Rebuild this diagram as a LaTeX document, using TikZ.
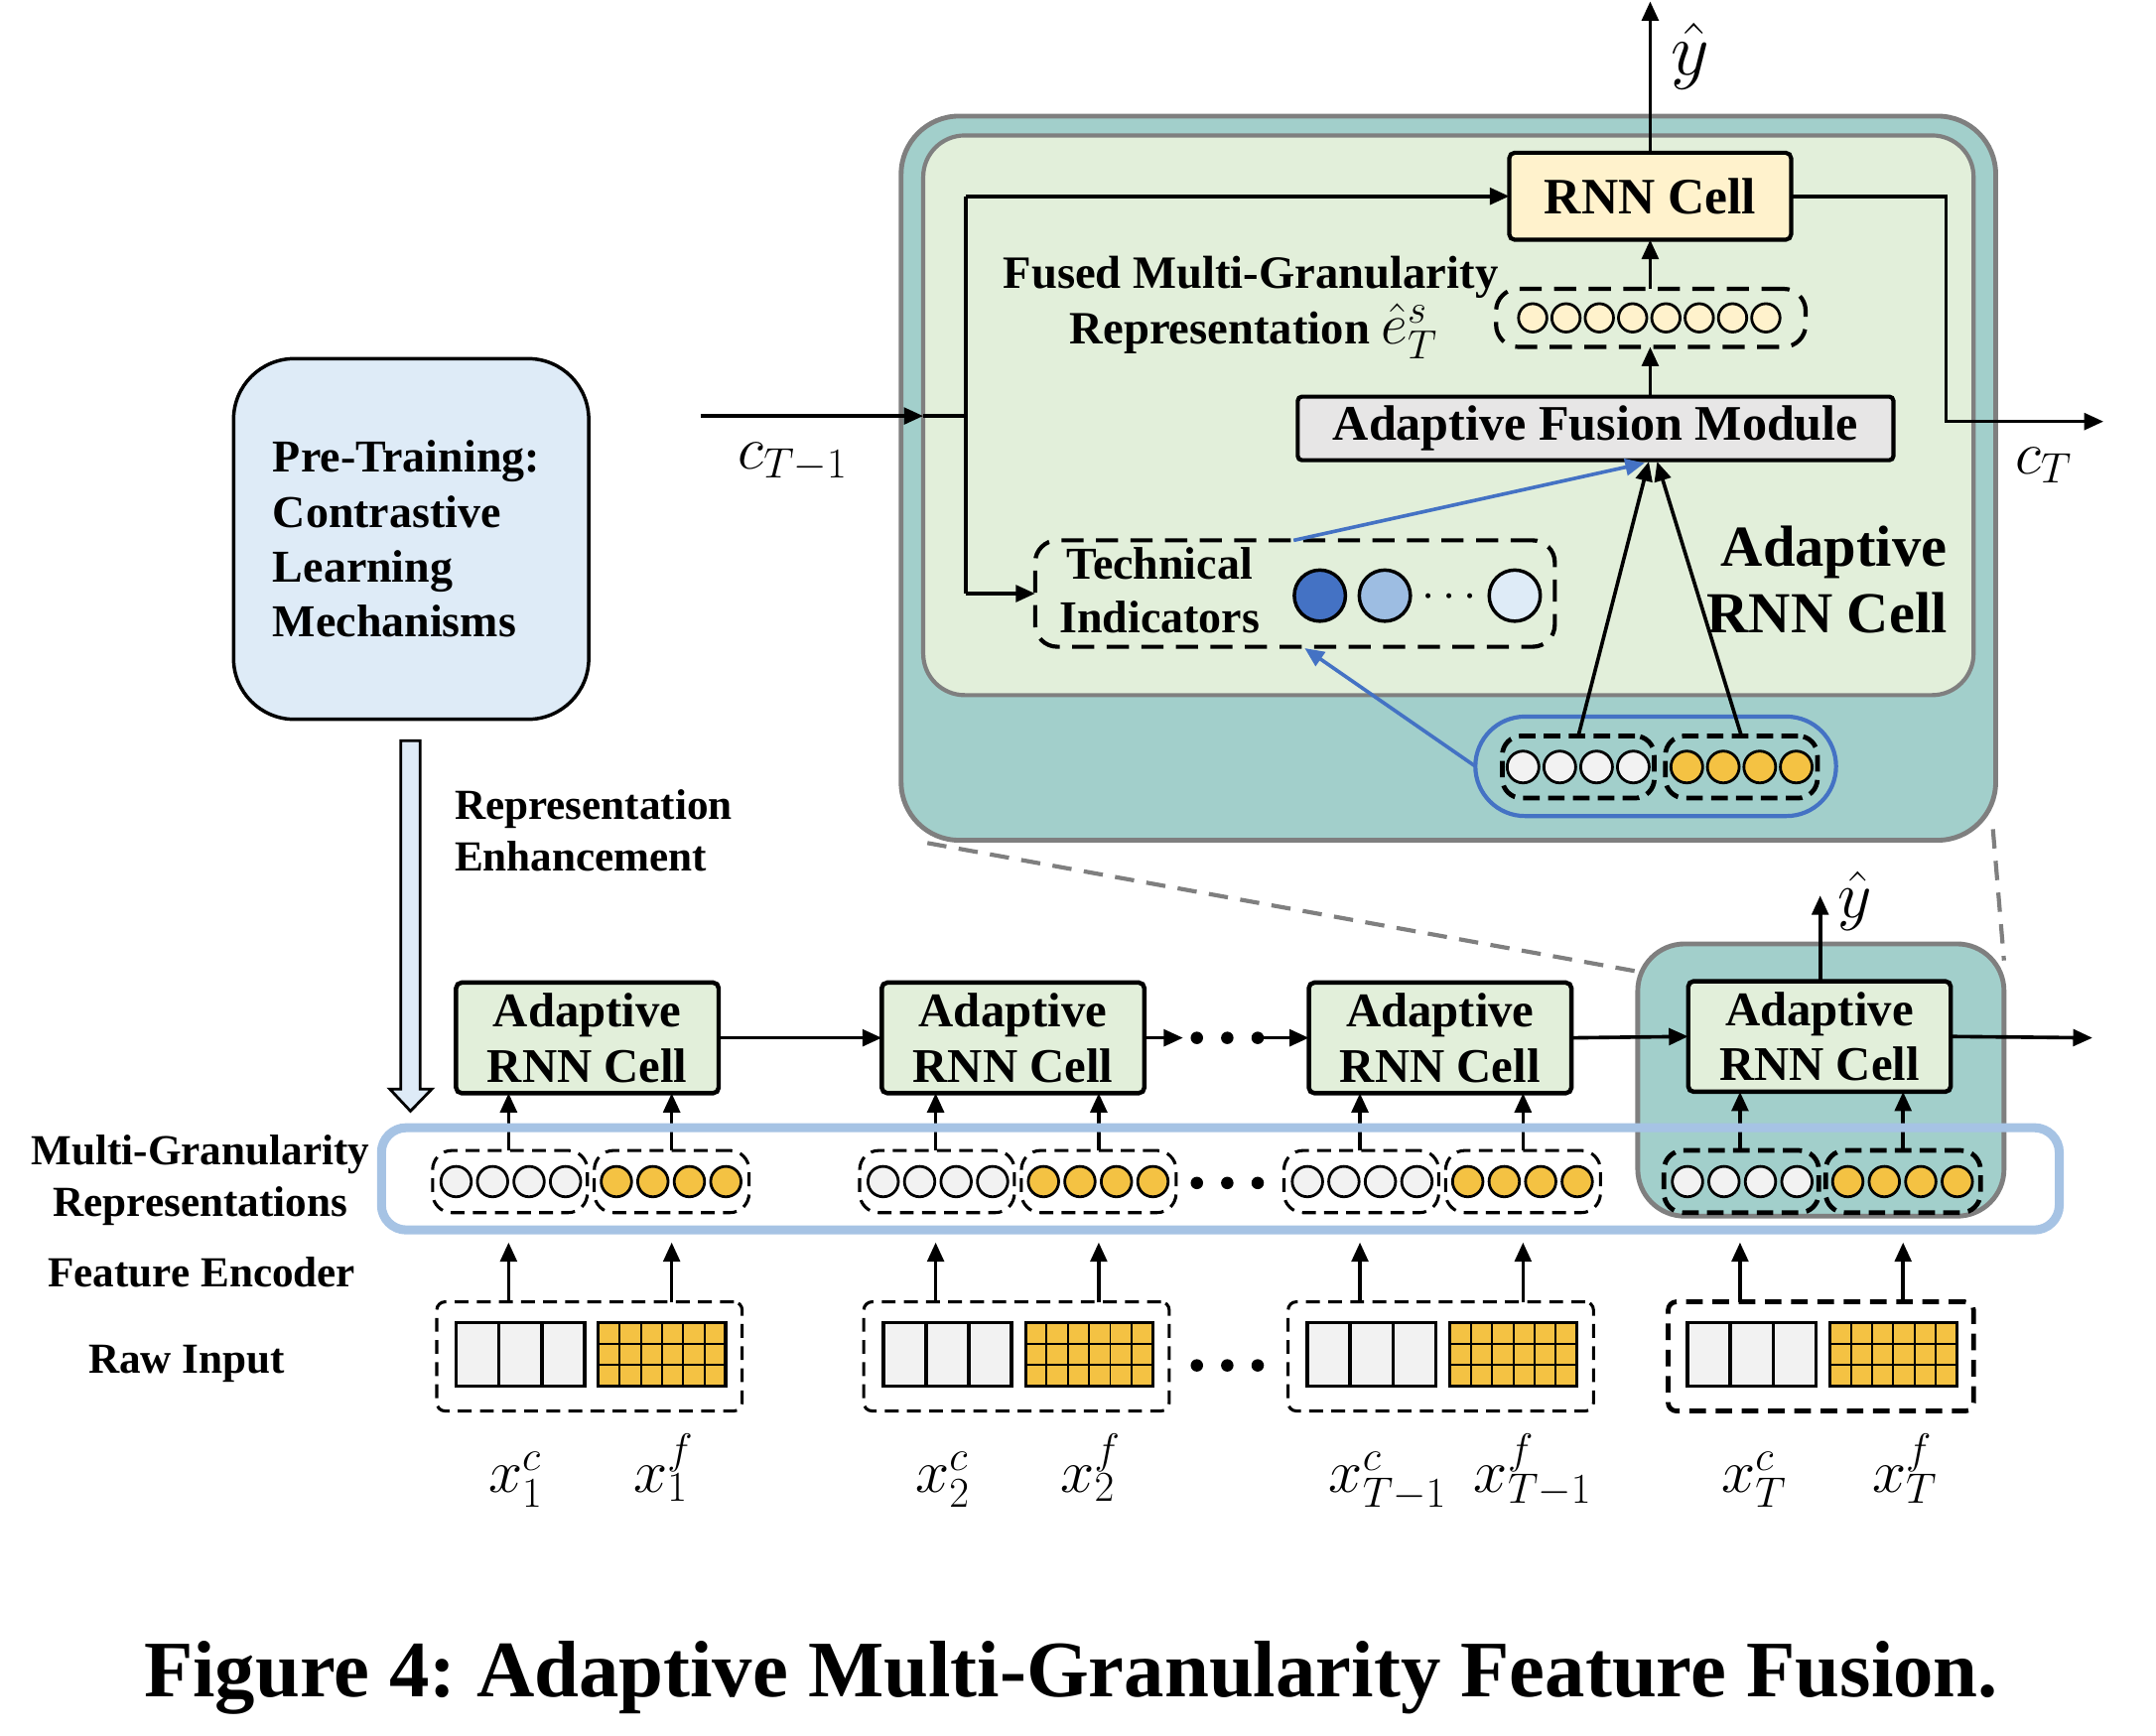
\RequirePackage{fix-cm}
\documentclass[tikz,border=0pt]{standalone}
\usepackage{fontspec}
\setmainfont{Liberation Serif}
\usetikzlibrary{arrows.meta,shapes.geometric,calc}
\frenchspacing
\definecolor{tealbg}{HTML}{A2CFCB}
\definecolor{greenbg}{HTML}{E2EFDA}
\definecolor{creambg}{HTML}{FFF2CC}
\definecolor{afmgray}{HTML}{E7E6E6}
\definecolor{ptblue}{HTML}{DEEBF7}
\definecolor{pillblue}{HTML}{4472C4}
\definecolor{rectblue}{HTML}{A6C3E4}
\definecolor{goldc}{HTML}{F4C243}
\definecolor{whitec}{HTML}{F2F2F2}
\definecolor{midblue}{HTML}{9DBDE2}
\definecolor{lightblue}{HTML}{DEEBF7}
\definecolor{bordergray}{HTML}{7F7F7F}
\tikzset{
  every node/.style={inner sep=0pt, outer sep=0pt},
  arr/.style={line width=2.6pt, -{Triangle[length=14pt,width=12pt]}},
  plain/.style={line width=2.6pt},
  bluearr/.style={line width=2.6pt, draw=pillblue, -{Triangle[length=14pt,width=12pt]}},
  cellbox/.style={draw, line width=3.2pt, fill=greenbg, rounded corners=4pt,
     minimum width=190pt, minimum height=80pt, align=center,
     font=\bfseries\fontsize{35}{40}\selectfont},
  grp/.style={draw, dashed, dash pattern=on 10pt off 6pt, line width=2.2pt, rounded corners=14pt,
     minimum width=112pt, minimum height=45pt},
  grpT/.style={grp, line width=3.4pt, dash pattern=on 12pt off 6pt},
  rawbox/.style={draw, dash pattern=on 10pt off 6pt, line width=2.2pt, rounded corners=6pt,
     minimum width=221pt, minimum height=79pt},
  rawboxT/.style={rawbox, line width=3.4pt, dash pattern=on 12pt off 7pt},
  wc/.style={circle, draw, line width=2pt, fill=whitec, minimum size=22pt},
  yc/.style={circle, draw, line width=2pt, fill=goldc, minimum size=22pt},
  dotn/.style={circle, fill=black, minimum size=9pt},
  lbl/.style={font=\bfseries\fontsize{31}{37}\selectfont, anchor=base},
  mth/.style={font=\fontsize{44}{48}\selectfont, anchor=base},
  gdash/.style={draw=bordergray, line width=3pt, dash pattern=on 14pt off 9pt},
}
\begin{document}
\begin{tikzpicture}[x=1pt,y=-1pt]
\useasboundingbox (0,0) rectangle (1560,1256);

% ---------- dashed zoom connectors ----------
\coordinate (zl1) at (671,610);
\coordinate (zl2) at (1185,703);
\coordinate (zr1) at (1442,600);
\coordinate (zr2) at (1450,695);
\draw[gdash] (zl1) -- (zl2);
\draw[gdash] (zr1) -- (zr2);

% ---------- zoomed adaptive RNN cell ----------
\node[draw=bordergray, line width=3.5pt, fill=tealbg, rounded corners=42pt,
      minimum width=792pt, minimum height=524pt] (outer) at (1048,346) {};
\node[draw=bordergray, line width=3pt, fill=greenbg, rounded corners=30pt,
      minimum width=760pt, minimum height=405pt] (inner) at (1048,300.5) {};

\node[draw, line width=3pt, fill=creambg, rounded corners=4pt, minimum width=204pt,
      minimum height=63pt, font=\bfseries\fontsize{37}{40}\selectfont] (rnn) at (1194,142) {RNN Cell};
\node[draw, line width=3pt, fill=afmgray, rounded corners=3pt, minimum width=431pt,
      minimum height=46pt, font=\bfseries\fontsize{36}{40}\selectfont] (afm) at (1154.5,310) {Adaptive Fusion Module};

% fused representation
\node[draw, dash pattern=on 16pt off 9pt, line width=3pt, rounded corners=16pt,
      minimum width=224pt, minimum height=42pt] (fused) at (1194.5,230) {};
\foreach \i in {0,...,7}{
  \node[circle, draw, line width=2pt, fill=creambg, minimum size=20.5pt] (fc\i) at (1109+24.1*\i,230) {};
}
\node[font=\bfseries\fontsize{33.5}{40}\selectfont, anchor=base] (fusedt1) at (905,209) {Fused Multi-Granularity};
\node[font=\bfseries\fontsize{33.5}{40}\selectfont, anchor=base] (fusedt2) at (907,249)
   {Representation {\fontsize{42}{48}\selectfont$\hat{e}^{s}_{T}$}};

% technical indicators
\node[draw, dash pattern=on 16pt off 9pt, line width=3pt, rounded corners=16pt,
      minimum width=376pt, minimum height=77pt] (tech) at (937,429.5) {};
\node[font=\bfseries\fontsize{33}{40}\selectfont, anchor=base] (tech1) at (839,419) {Technical};
\node[font=\bfseries\fontsize{33}{40}\selectfont, anchor=base] (tech2) at (839,458) {Indicators};
\node[circle, draw, line width=2.5pt, fill=pillblue, minimum size=37pt] (ti1) at (955,431) {};
\node[circle, draw, line width=2.5pt, fill=midblue, minimum size=37pt] (ti2) at (1002,431) {};
\node[font=\fontsize{34}{36}\selectfont] (tidots) at (1049,432) {$\cdots$};
\node[circle, draw, line width=2.5pt, fill=lightblue, minimum size=37pt] (ti3) at (1096,431) {};

% input pill
\node[draw=pillblue, line width=3pt, rounded corners=36pt, fill=tealbg,
      minimum width=261pt, minimum height=72pt] (pill) at (1198,554.5) {};
\node[grpT, minimum width=110pt] (pg1) at (1142,555) {};
\node[grpT, minimum width=110pt] (pg2) at (1260,555) {};
\foreach \i in {0,...,3}{
  \node[wc, minimum size=23pt] (pw\i) at (1102+26.6*\i,555) {};
  \node[yc, minimum size=23pt] (py\i) at (1220.5+26.4*\i,555) {};
}
\node[font=\bfseries\fontsize{42}{48}\selectfont, anchor=base] (bigl1) at (1327,410) {Adaptive};
\node[font=\bfseries\fontsize{42}{48}\selectfont, anchor=base] (bigl2) at (1322,458) {RNN Cell};

% connectors inside the zoomed cell
\coordinate (cin) at (507,301);
\coordinate (cmid) at (668,301);
\coordinate (jn) at (699,301);
\coordinate (jt) at (699,142);
\coordinate (jb) at (699,429.5);
\draw[arr] (cin) -- (cmid);
\draw[plain] (cmid) -- (jn);
\draw[plain] (jt) -- (jb);
\draw[arr] (jt) -- (rnn.west);
\draw[arr] (jb) -- (tech.west);
\coordinate (ro1) at (1408,142);
\coordinate (ro2) at (1408,305);
\coordinate (rout) at (1522,305);
\draw[arr] (rnn.east) -- (ro1) -- (ro2) -- (rout);
\coordinate (ytop) at (1194,1);
\draw[arr] (rnn.north) -- (ytop);
\node[mth, font=\fontsize{54}{58}\selectfont] (yhat1) at (1223,54) {$\hat{y}$};
\node[mth, anchor=base west] (ctm1) at (534,339) {$c_{T-1}$};
\node[mth, anchor=base west] (ct) at (1458,343) {$c_{T}$};
\draw[arr] (fused.north -| rnn.south) -- (rnn.south);
\draw[arr] (afm.north -| rnn.south) -- (fused.south -| rnn.south);
\coordinate (apex1) at (1193,334);
\coordinate (apex2) at (1199,334);
\draw[arr] (pg1.north) -- (apex1);
\draw[arr] (pg2.north) -- (apex2);
\coordinate (techtop) at (936,391);
\coordinate (apex3) at (1190,335);
\draw[bluearr] (techtop) -- (apex3);
\coordinate (techbot) at (944,469);
\draw[bluearr] (pill.west) -- (techbot);

% ---------- pre-training ----------
\node[draw, line width=2.5pt, fill=ptblue, rounded corners=44pt, minimum width=257pt,
      minimum height=261pt, text width=200pt, inner xsep=28.5pt, align=left,
      font=\bfseries\fontsize{33}{39.8}\selectfont] (pre) at (297.5,390)
      {Pre-Training:\\Contrastive\\Learning\\Mechanisms};
\coordinate (hatop) at (297,536);
\coordinate (habot) at (297,804);
\draw[draw=black, line width=2pt, fill=ptblue]
  (hatop) ++(-7,0) -- ++(0,252) -- ++(-8,0) -- (habot) -- ++(15.5,-16) -- ++(-8.5,0) -- ++(0,-252) -- cycle;
\node[lbl, anchor=base west] (re1) at (329,593) {Representation};
\node[lbl, anchor=base west] (re2) at (329,630) {Enhancement};

% ---------- left labels ----------
\node[lbl] (lmg1) at (145,843) {Multi-Granularity};
\node[lbl] (lmg2) at (145,880) {Representations};
\node[lbl] (lfe) at (146,931) {Feature Encoder};
\node[lbl] (lri) at (135,994) {Raw Input};

% ---------- small teal box ----------
\node[draw=bordergray, line width=3.5pt, fill=tealbg, rounded corners=34pt,
      minimum width=265pt, minimum height=197pt] (small) at (1317.5,781.5) {};

% ---------- cells ----------
\node[cellbox] (c1) at (425,751) {Adaptive\\RNN Cell};
\node[cellbox] (c2) at (733,751) {Adaptive\\RNN Cell};
\node[cellbox] (c3) at (1042,751) {Adaptive\\RNN Cell};
\node[cellbox] (c4) at (1316.5,750) {Adaptive\\RNN Cell};
\draw[arr] (c1.east) -- (c2.west);
\coordinate (d1end) at (856,751);
\draw[arr] (c2.east) -- (d1end);
\node[dotn] (cd1) at (866,751) {};
\node[dotn] (cd2) at (888,751) {};
\node[dotn] (cd3) at (910,751) {};
\draw[arr] (cd3.center) -- (c3.west);
\draw[arr] (c3.east) -- (c4.west);
\coordinate (outr) at (1514,751);
\draw[arr] (c4.east) -- (outr);
\coordinate (ybot) at (1317,648);
\draw[arr] (c4.north -| ybot) -- (ybot);
\node[mth, font=\fontsize{48}{52}\selectfont] (yhat2) at (1342,664) {$\hat{y}$};

% ---------- representation groups and raw inputs ----------
\foreach \n/\L/\s/\gs/\rs in {1/330/c1/grp/rawbox, 2/639/c2/grp/rawbox, 3/946/c3/grp/rawbox, 4/1221/c4/grpT/rawboxT}{
  \node[\gs] (gw\n) at (\L+39,855) {};
  \node[\gs] (gy\n) at (\L+156,855) {};
  \foreach \i in {0,...,3}{
    \node[wc] (w\n\i) at (\L+26.4*\i,855) {};
    \node[yc] (y\n\i) at (\L+116+26.4*\i,855) {};
  }
  \node[\rs] (raw\n) at (\L+96.5,981.5) {};
  % gray 3-cell block
  \node[draw, line width=2.6pt, fill=whitec, minimum width=93pt, minimum height=46pt] (rc\n) at (\L+46.5,980) {};
  \draw[line width=2.6pt] ($(rc\n.north west)+(31,0)$) -- ($(rc\n.south west)+(31,0)$);
  \draw[line width=2.6pt] ($(rc\n.north west)+(62,0)$) -- ($(rc\n.south west)+(62,0)$);
  % yellow grid
  \node[draw, line width=2.2pt, fill=goldc, minimum width=92pt, minimum height=46pt] (rf\n) at (\L+149,980) {};
  \foreach \k in {1,...,5}{
    \draw[line width=1.4pt] ($(rf\n.north west)+(15.33*\k,0)$) -- ($(rf\n.south west)+(15.33*\k,0)$);
  }
  \foreach \k in {1,2}{
    \draw[line width=1.4pt] ($(rf\n.north west)+(0,15.33*\k)$) -- ($(rf\n.north east)+(0,15.33*\k)$);
  }
  % arrows
  \coordinate (aw\n) at (\L+38,0);
  \coordinate (ay\n) at (\L+156,0);
  \draw[arr] (gw\n.north -| aw\n) -- (\s.south -| aw\n);
  \draw[arr] (gy\n.north -| ay\n) -- (\s.south -| ay\n);
  \draw[arr] (raw\n.north -| aw\n) -- ($(raw\n.north -| aw\n)+(0,-43)$);
  \draw[arr] (raw\n.north -| ay\n) -- ($(raw\n.north -| ay\n)+(0,-43)$);
}
\node[dotn] (gd1) at (866,856) {};
\node[dotn] (gd2) at (888,856) {};
\node[dotn] (gd3) at (910,856) {};
\node[dotn] (rd1) at (866,988) {};
\node[dotn] (rd2) at (888,988) {};
\node[dotn] (rd3) at (910,988) {};

% big blue rectangle
\node[draw=rectblue, line width=6.5pt, rounded corners=18pt, minimum width=1214pt,
      minimum height=74pt] (mgr) at (883,853) {};

% input labels
\node[mth] (x1c) at (373,1080) {$x_{1}^{c}$};
\node[mth] (x1f) at (480,1080) {$x_{1}^{f}$};
\node[mth] (x2c) at (682,1080) {$x_{2}^{c}$};
\node[mth] (x2f) at (789,1080) {$x_{2}^{f}$};
\node[mth] (x3c) at (1004,1080) {$x_{T-1}^{c}$};
\node[mth] (x3f) at (1109,1080) {$x_{T-1}^{f}$};
\node[mth] (x4c) at (1269,1080) {$x_{T}^{c}$};
\node[mth] (x4f) at (1378,1080) {$x_{T}^{f}$};

% caption
\node[font=\bfseries\fontsize{58}{64}\selectfont, anchor=base] (cap) at (775,1228)
  {Figure 4: Adaptive Multi-Granularity Feature Fusion.};
\end{tikzpicture}
\end{document}
